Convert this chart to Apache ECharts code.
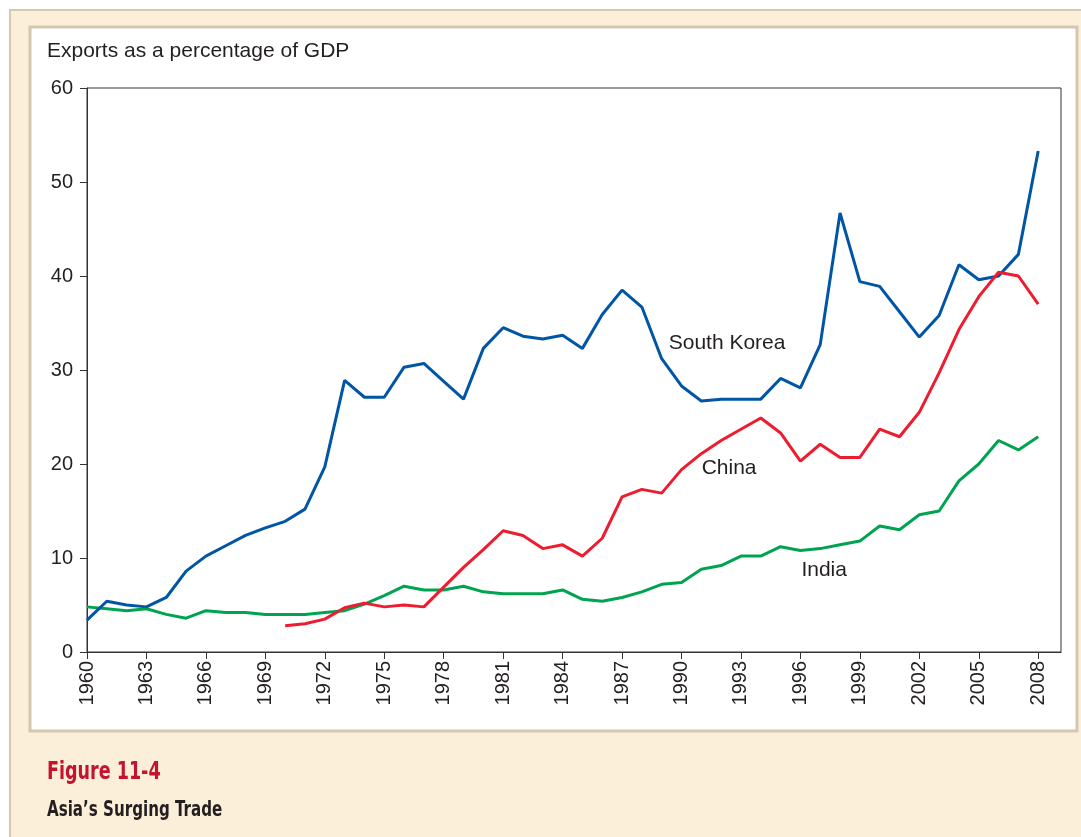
<!DOCTYPE html>
<html>
<head>
<meta charset="utf-8">
<script src="https://cdn.jsdelivr.net/npm/echarts@6/dist/echarts.min.js"></script>
<style>
  html, body { margin: 0; padding: 0; background: #fff; }
  #chart { width: 1081px; height: 837px; }
</style>
</head>
<body>
<div id="chart"></div>
<script>
const years = [];
for (let y = 1960; y <= 2008; y++) years.push(y);

const southKorea = [
  3.4, 5.4, 5.0, 4.8, 5.8, 8.6, 10.2, 11.3, 12.4, 13.2,
  13.9, 15.2, 19.7, 28.9, 27.1, 27.1, 30.3, 30.7, 28.8, 26.9,
  32.3, 34.5, 33.6, 33.3, 33.7, 32.3, 35.9, 38.5, 36.7, 31.2,
  28.3, 26.7, 26.9, 26.9, 26.9, 29.1, 28.1, 32.7, 46.7, 39.4,
  38.9, 36.2, 33.5, 35.8, 41.2, 39.6, 40.0, 42.3, 53.3
];

const china = [
  null, null, null, null, null, null, null, null, null, null,
  2.8, 3.0, 3.5, 4.7, 5.2, 4.8, 5.0, 4.8, 6.9, 9.0,
  10.9, 12.9, 12.4, 11.0, 11.4, 10.2, 12.1, 16.5, 17.3, 16.9,
  19.4, 21.1, 22.5, 23.7, 24.9, 23.3, 20.3, 22.1, 20.7, 20.7,
  23.7, 22.9, 25.5, 29.7, 34.3, 37.8, 40.4, 40.0, 37.0
];

const india = [
  4.8, 4.6, 4.4, 4.6, 4.0, 3.6, 4.4, 4.2, 4.2, 4.0,
  4.0, 4.0, 4.2, 4.4, 5.1, 6.0, 7.0, 6.6, 6.6, 7.0,
  6.4, 6.2, 6.2, 6.2, 6.6, 5.6, 5.4, 5.8, 6.4, 7.2,
  7.4, 8.8, 9.2, 10.2, 10.2, 11.2, 10.8, 11.0, 11.4, 11.8,
  13.4, 13.0, 14.6, 15.0, 18.2, 20.0, 22.5, 21.5, 22.9
];

// inline series labels: [year, value, text]
const seriesLabels = [
  [1992.3, 32.9, 'South Korea'],
  [1992.4, 19.6, 'China'],
  [1997.2, 8.7, 'India']
];

const yTicks = [0, 10, 20, 30, 40, 50, 60];

const font = '"Liberation Sans", Arial, sans-serif';
const capFont = '"DejaVu Sans Condensed", "DejaVu Sans", sans-serif';

const pairs = arr => years.map((y, i) => [y, arr[i]]);

const chart = echarts.init(document.getElementById('chart'));

chart.setOption({
  animation: false,
  graphic: [
    {
      type: 'rect', z: -10, silent: true,
      shape: { x: 10, y: 10, width: 1090, height: 850 },
      style: { fill: '#fcefd9', stroke: '#d6c7b1', lineWidth: 2 }
    },
    {
      type: 'rect', z: -9, silent: true,
      shape: { x: 30, y: 27, width: 1047, height: 704 },
      style: { fill: '#ffffff', stroke: '#d5c6b0', lineWidth: 3 }
    },
    {
      type: 'text', left: 47, top: 41,
      style: { text: 'Exports as a percentage of GDP', font: '21px ' + font, fill: '#231f20' }
    },
    {
      type: 'text', x: 47, y: 760, scaleX: 0.78,
      style: { text: 'Figure 11-4', font: 'bold 25px ' + capFont, fill: '#c4122f' }
    },
    {
      type: 'text', x: 47, y: 800, scaleX: 0.8,
      style: { text: 'Asia\u2019s Surging Trade', font: 'bold 21px ' + capFont, fill: '#231f20' }
    }
  ],
  grid: {
    left: 87, top: 88, right: 20, bottom: 185,
    show: true, borderColor: '#333', borderWidth: 1, backgroundColor: 'transparent'
  },
  xAxis: {
    type: 'value',
    min: 1960, max: 2009.15, interval: 3,
    splitLine: { show: false },
    axisLine: { lineStyle: { color: '#333', width: 1 } },
    axisTick: { show: true, length: 7, lineStyle: { color: '#333' } },
    axisLabel: {
      rotate: 90, margin: 9, fontSize: 20, fontFamily: font, color: '#231f20',
      showMaxLabel: false,
      formatter: v => ((v - 1960) % 3 === 0 && v <= 2008) ? String(v) : ''
    }
  },
  yAxis: {
    type: 'value',
    min: yTicks[0], max: yTicks[yTicks.length - 1], interval: 10,
    splitLine: { show: false },
    axisLine: { show: true, lineStyle: { color: '#333', width: 1 } },
    axisTick: { show: true, length: 7, lineStyle: { color: '#333' } },
    axisLabel: { margin: 14, fontSize: 20, fontFamily: font, color: '#231f20' }
  },
  series: [
    {
      name: 'South Korea', type: 'line', data: pairs(southKorea),
      showSymbol: false, lineStyle: { color: '#0055a4', width: 3 }, z: 3
    },
    {
      name: 'China', type: 'line', data: pairs(china),
      showSymbol: false, connectNulls: false, lineStyle: { color: '#ed1c2e', width: 3 }, z: 4
    },
    {
      name: 'India', type: 'line', data: pairs(india),
      showSymbol: false, lineStyle: { color: '#00a34f', width: 3 }, z: 2
    },
    {
      type: 'scatter', symbolSize: 0, silent: true,
      itemStyle: { opacity: 1 },
      data: seriesLabels.map(d => ({ value: [d[0], d[1]], name: d[2] })),
      label: {
        show: true, position: 'inside', formatter: p => p.name,
        fontSize: 21, fontFamily: font, color: '#231f20', opacity: 1
      }
    }
  ]
});
</script>
</body>
</html>
